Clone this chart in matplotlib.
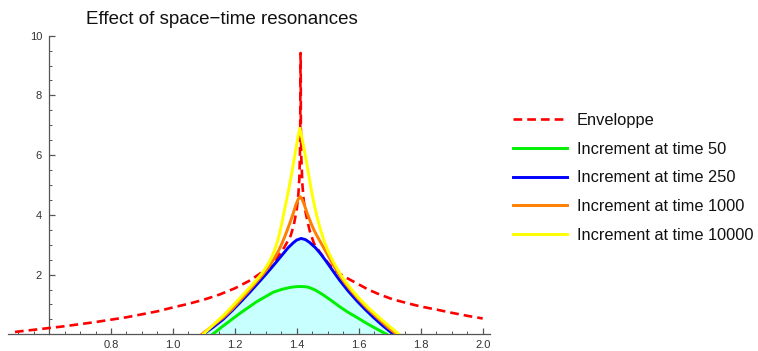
import matplotlib
matplotlib.use("Agg")
import matplotlib.pyplot as plt
from matplotlib.ticker import FixedLocator

plt.rcParams['font.family'] = ['Liberation Sans', 'DejaVu Sans']

# ---- data ----
env_x = [0.49, 0.55, 0.60, 0.65, 0.70, 0.75, 0.80, 0.85, 0.90, 0.95, 1.00, 1.05, 1.10,
         1.15, 1.20, 1.25, 1.30, 1.33, 1.36, 1.38, 1.39, 1.40, 1.405, 1.408, 1.410, 1.411,
         1.4118, 1.4124, 1.413, 1.4145, 1.418, 1.422, 1.428, 1.435, 1.442, 1.455, 1.475,
         1.50, 1.52, 1.55, 1.593, 1.63, 1.668, 1.71, 1.754, 1.80, 1.85, 1.90, 1.95, 2.00]
env_y = [0.08, 0.15, 0.21, 0.27, 0.34, 0.41, 0.49, 0.57, 0.67, 0.77, 0.90, 1.02, 1.16,
         1.33, 1.54, 1.81, 2.17, 2.47, 2.92, 3.30, 3.65, 4.20, 4.70, 5.20, 6.00, 7.00,
         9.42, 9.42, 7.00, 5.90, 5.00, 4.50, 4.10, 3.75, 3.45, 3.05, 2.74,
         2.40, 2.17, 1.95, 1.71, 1.50, 1.33, 1.17, 1.05, 0.93, 0.83, 0.72, 0.62, 0.53]

g_x = [1.128, 1.162, 1.216, 1.270, 1.324, 1.350, 1.378, 1.400, 1.414, 1.430, 1.442, 1.460,
       1.485, 1.510, 1.539, 1.565, 1.593, 1.620, 1.647, 1.690]
g_y = [0.00, 0.28, 0.70, 1.09, 1.41, 1.50, 1.57, 1.598, 1.60, 1.59, 1.56, 1.48,
       1.32, 1.14, 0.92, 0.74, 0.57, 0.40, 0.24, 0.00]

b_x = [1.098, 1.130, 1.162, 1.190, 1.222, 1.250, 1.270, 1.300, 1.324, 1.340, 1.356, 1.372,
       1.389, 1.400, 1.414, 1.428, 1.442, 1.460, 1.478, 1.495, 1.510, 1.525, 1.539, 1.565,
       1.593, 1.620, 1.647, 1.675, 1.700, 1.717]
b_y = [0.00, 0.24, 0.50, 0.78, 1.12, 1.43, 1.66, 2.01, 2.30, 2.50, 2.70, 2.90,
       3.07, 3.16, 3.21, 3.17, 3.07, 2.90, 2.68, 2.44, 2.22, 2.00, 1.80, 1.46,
       1.13, 0.84, 0.57, 0.31, 0.10, 0.00]

o_x = [1.093, 1.130, 1.162, 1.190, 1.211, 1.240, 1.270, 1.290, 1.308, 1.325, 1.340, 1.350,
       1.359, 1.368, 1.378, 1.388, 1.397, 1.405, 1.411, 1.418, 1.426, 1.435, 1.445, 1.455,
       1.467, 1.480, 1.494, 1.508, 1.522, 1.537, 1.555, 1.575, 1.595, 1.625, 1.660, 1.695,
       1.722]
o_y = [0.00, 0.30, 0.56, 0.83, 1.07, 1.40, 1.76, 2.00, 2.24, 2.50, 2.78, 3.00,
       3.22, 3.46, 3.74, 4.04, 4.34, 4.54, 4.61, 4.50, 4.28, 4.01, 3.74, 3.50,
       3.26, 3.02, 2.76, 2.50, 2.25, 1.99, 1.72, 1.46, 1.22, 0.89, 0.55, 0.22,
       0.00]

y_x = [1.098, 1.130, 1.162, 1.190, 1.206, 1.240, 1.270, 1.290, 1.310, 1.322, 1.333, 1.344,
       1.354, 1.365, 1.375, 1.384, 1.391, 1.398, 1.404, 1.410, 1.416, 1.422, 1.429, 1.437,
       1.446, 1.455, 1.464, 1.475, 1.488, 1.500, 1.515, 1.530, 1.545, 1.560, 1.580, 1.600,
       1.630, 1.667, 1.700, 1.730]
y_y = [0.00, 0.32, 0.62, 0.92, 1.10, 1.48, 1.82, 2.08, 2.40, 2.66, 2.96, 3.36,
       3.85, 4.40, 4.92, 5.42, 5.85, 6.28, 6.62, 6.90, 6.60, 6.28, 5.90, 5.42,
       4.88, 4.40, 3.98, 3.55, 3.12, 2.80, 2.48, 2.20, 1.94, 1.72, 1.46, 1.22,
       0.90, 0.55, 0.26, 0.00]

labels = ["Enveloppe", "Increment at time 50", "Increment at time 250",
          "Increment at time 1000", "Increment at time 10000"]
x_major = [0.8, 1.0, 1.2, 1.4, 1.6, 1.8, 2.0]
y_major = [2, 4, 6, 8, 10]

# ---- figure ----
W, H = 758, 351
fig = plt.figure(figsize=(W / 100, H / 100), dpi=100)
L, R, B, T = 8, 490, 334.3, 35.7
ax = fig.add_axes([L / W, (H - B) / H, (R - L) / W, (B - T) / H])
ax.set_xlim(0.4675, 2.0236)
ax.set_ylim(0, 10)

ax.fill_between(b_x, b_y, 0, color='#C8FFFF', lw=0, zorder=1)
ax.plot(env_x, env_y, color='#FF0000', lw=1.9, dashes=(3.3, 1.9), label=labels[0], zorder=3)
ax.plot(g_x, g_y, color='#00F000', lw=2.1, label=labels[1], zorder=4)
ax.plot(b_x, b_y, color='#0000FF', lw=2.1, label=labels[2], zorder=5)
ax.plot(o_x, o_y, color='#FF8000', lw=2.1, label=labels[3], zorder=6)
ax.plot(y_x, y_y, color='#FFFF00', lw=2.1, label=labels[4], zorder=7)

for s in ['top', 'right']:
    ax.spines[s].set_visible(False)
ax.spines['left'].set_position(('data', 0.6))
ax.spines['bottom'].set_position(('data', 0))
for s in ['left', 'bottom']:
    ax.spines[s].set_color('#555555')
    ax.spines[s].set_linewidth(0.9)

ax.xaxis.set_major_locator(FixedLocator(x_major))
ax.set_xticklabels([f"{v:.1f}" for v in x_major])
minor_x = [round(0.5 + 0.05 * i, 2) for i in range(31)]
ax.xaxis.set_minor_locator(FixedLocator([v for v in minor_x if v not in x_major and v != 0.6]))
ax.yaxis.set_major_locator(FixedLocator(y_major))
ax.set_yticklabels([str(v) for v in y_major])
ax.yaxis.set_minor_locator(FixedLocator([0.5 * i for i in range(1, 20) if (0.5 * i) % 2 != 0]))
ax.tick_params(which='major', direction='in', length=4, width=0.9, color='#555555',
               labelsize=8, labelcolor='#333333')
ax.tick_params(axis='x', which='major', pad=4)
ax.tick_params(axis='y', which='major', pad=5)
ax.tick_params(which='minor', direction='in', length=2.5, width=0.7, color='#555555')

fig.text(222 / W, 1 - 19 / H, "Effect of space\u2212time resonances", ha='center', va='center',
         fontsize=13.5, color='#111111')

leg = ax.legend(loc='upper left', bbox_to_anchor=(505 / W, 1 - 105 / H), bbox_transform=fig.transFigure,
                frameon=False, fontsize=11.8, handlelength=3.3, handletextpad=0.6,
                labelspacing=0.83, borderpad=0)
for t in leg.get_texts():
    t.set_color('#111111')

fig.savefig("out.png", dpi=100)
